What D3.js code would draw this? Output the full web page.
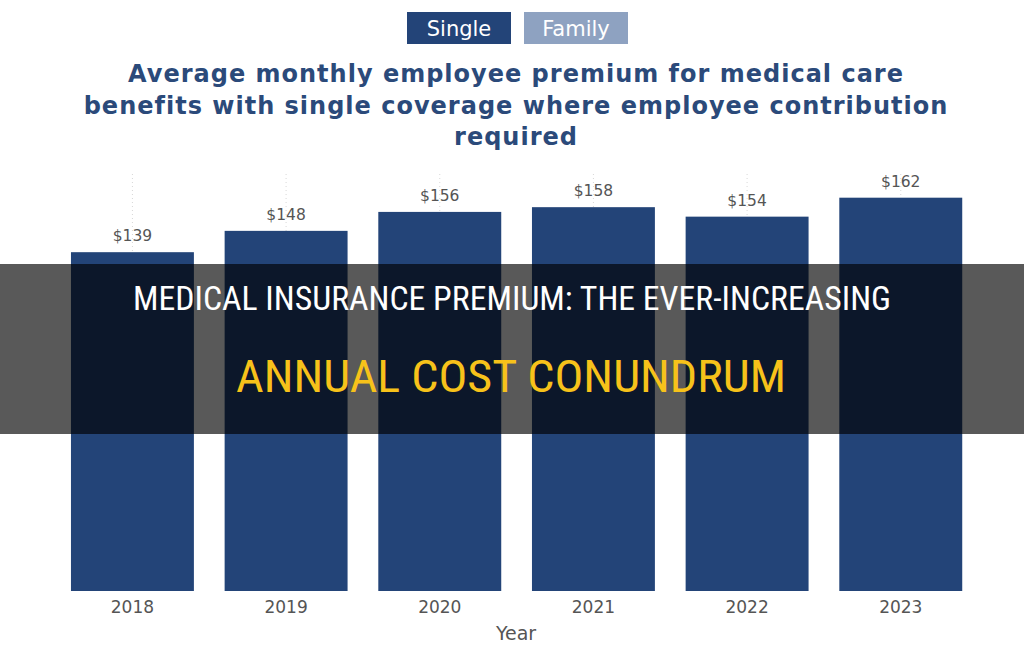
<!DOCTYPE html>
<html>
<head>
<meta charset="utf-8">
<script src="https://cdn.jsdelivr.net/npm/d3@7"></script>
<style>
  html, body { margin: 0; padding: 0; background: #fff; }
  svg { display: block; }
</style>
</head>
<body>
<div id="chart"></div>
<script>
var years = ['2018', '2019', '2020', '2021', '2022', '2023'];
var premiums = [139, 148, 156, 158, 154, 162];
var buttons = ['Single', 'Family'];
var titleLines = [
  'Average monthly employee premium for medical care',
  'benefits with single coverage where employee contribution',
  'required'
];
var bannerLines = ['MEDICAL INSURANCE PREMIUM: THE EVER-INCREASING', 'ANNUAL COST CONUNDRUM'];

var width = 1024, height = 658;

var svg = d3.select('#chart').append('svg')
  .attr('width', width)
  .attr('height', height);

// toggle buttons
var btn = svg.append('g').attr('class', 'buttons');
var btnX = d3.scaleOrdinal().domain(buttons).range([407, 524]);
var btnFill = d3.scaleOrdinal().domain(buttons).range(['#234478', '#8ea2c1']);
buttons.forEach(function(b){
  btn.append('rect')
    .attr('x', btnX(b)).attr('y', 12)
    .attr('width', 104).attr('height', 32)
    .attr('fill', btnFill(b));
  btn.append('text')
    .attr('x', btnX(b) + 52).attr('y', 36)
    .attr('text-anchor', 'middle')
    .attr('font-family', 'DejaVu Sans, Verdana, sans-serif')
    .attr('font-size', 21)
    .attr('fill', '#fff')
    .text(b);
});

// title
svg.append('g').selectAll('text')
  .data(titleLines)
  .join('text')
    .attr('x', 516)
    .attr('y', function(d, i){ return 82 + i * 31.5; })
    .attr('text-anchor', 'middle')
    .attr('font-family', 'DejaVu Sans, Verdana, sans-serif')
    .attr('font-weight', 'bold')
    .attr('font-size', 24)
    .attr('letter-spacing', 1)
    .attr('fill', '#2b4a7a')
    .text(function(d){ return d; });

// scales
var x = d3.scaleBand()
  .domain(years)
  .range([55.6, 977.6])
  .paddingInner(0.2)
  .paddingOuter(0.1);

var y = d3.scaleLinear()
  .domain([-4, 172])
  .range([591, 174]);

var plot = svg.append('g').attr('class', 'plot');

// dotted guides
plot.selectAll('line.guide')
  .data(years)
  .join('line')
    .attr('class', 'guide')
    .attr('x1', function(d){ return x(d) + x.bandwidth() / 2; })
    .attr('x2', function(d){ return x(d) + x.bandwidth() / 2; })
    .attr('y1', y(172))
    .attr('y2', y(-4))
    .attr('stroke', '#d8d8d8')
    .attr('stroke-width', 1)
    .attr('stroke-dasharray', '1,3');

// bars
plot.selectAll('rect.bar')
  .data(premiums)
  .join('rect')
    .attr('class', 'bar')
    .attr('x', function(d, i){ return x(years[i]); })
    .attr('y', function(d){ return y(d); })
    .attr('width', x.bandwidth())
    .attr('height', function(d){ return y(-4) - y(d); })
    .attr('fill', '#234478');

// value labels
plot.selectAll('text.val')
  .data(premiums)
  .join('text')
    .attr('class', 'val')
    .attr('x', function(d, i){ return x(years[i]) + x.bandwidth() / 2; })
    .attr('y', function(d){ return y(d) - 11; })
    .attr('text-anchor', 'middle')
    .attr('font-family', 'DejaVu Sans, Verdana, sans-serif')
    .attr('font-size', 15.5)
    .attr('fill', '#555')
    .text(function(d){ return '$' + d; });

// x axis
var xAxis = svg.append('g')
  .attr('transform', 'translate(0,' + y(-4) + ')')
  .call(d3.axisBottom(x).tickSize(0).tickPadding(10));
xAxis.select('.domain').remove();
xAxis.selectAll('text')
  .attr('font-family', 'DejaVu Sans, Verdana, sans-serif')
  .attr('font-size', 17)
  .attr('fill', '#555');

svg.append('text')
  .attr('x', 516).attr('y', 640)
  .attr('text-anchor', 'middle')
  .attr('font-family', 'DejaVu Sans, Verdana, sans-serif')
  .attr('font-size', 19)
  .attr('fill', '#555')
  .text('Year');

// banner overlay
var banner = svg.append('g').attr('class', 'banner');
banner.append('rect')
  .attr('x', 0).attr('y', 264)
  .attr('width', width).attr('height', 170)
  .attr('fill', 'rgba(0,0,0,0.65)');

banner.append('text')
  .attr('x', 512).attr('y', 310)
  .attr('text-anchor', 'middle')
  .attr('font-family', 'Liberation Sans Narrow, Roboto Condensed, Liberation Sans, sans-serif')
  .attr('font-size', 33)
  .attr('textLength', 758)
  .attr('lengthAdjust', 'spacingAndGlyphs')
  .attr('fill', '#fff')
  .text(bannerLines[0]);

banner.append('text')
  .attr('x', 511).attr('y', 392)
  .attr('text-anchor', 'middle')
  .attr('font-family', 'Liberation Sans Narrow, Roboto Condensed, Liberation Sans, sans-serif')
  .attr('font-size', 44)
  .attr('textLength', 550)
  .attr('lengthAdjust', 'spacingAndGlyphs')
  .attr('fill', '#f7c21a')
  .text(bannerLines[1]);
</script>
</body>
</html>
